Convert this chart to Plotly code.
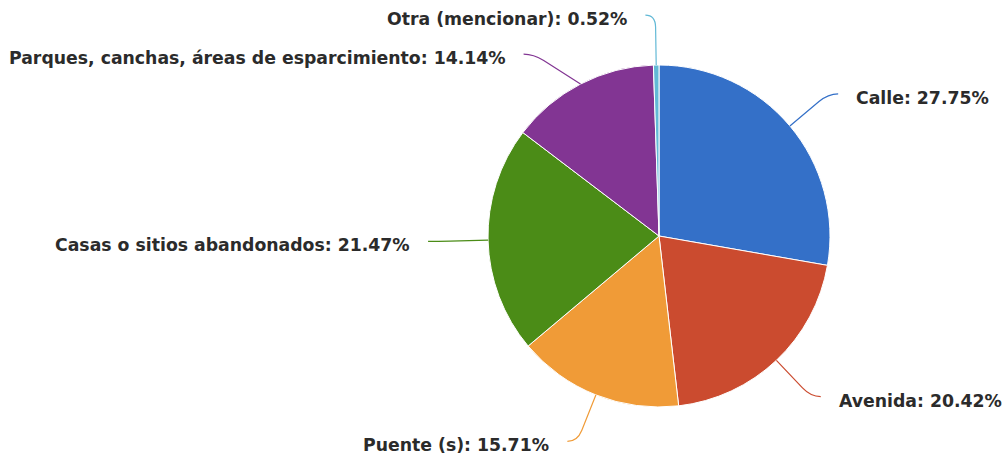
import math
import plotly.graph_objects as go

# ---- data ----
labels = ["Calle", "Avenida", "Puente (s)", "Casas o sitios abandonados",
          "Parques, canchas, áreas de esparcimiento", "Otra (mencionar)"]
values = [27.75, 20.42, 15.71, 21.47, 14.14, 0.52]
colors = ["#3470C8", "#CB4B2F", "#F09B37", "#4B8C17", "#823593", "#62B9D6"]

# ---- layout constants ----
W, H = 1006, 457
CX, CY, R = 659, 236, 171
LABEL_R = 221
ELBOW = 10
GAP = 16
MIN_SPACING = 39
FONT = dict(family="DejaVu Sans", size=17.3, color="#2b2b2b")

total = sum(values)
cum = 0.0
items = []
for lab, v, c in zip(labels, values, colors):
    mid = (cum + v / 2) / total * 2 * math.pi
    cum += v
    s, co = math.sin(mid), math.cos(mid)
    side = 1 if s >= 0 else -1
    items.append(dict(lab=lab, v=v, c=c, s=s, co=co, side=side,
                      y=CY - LABEL_R * co))

# simple collision resolution per side
for side in (1, -1):
    grp = sorted([it for it in items if it["side"] == side], key=lambda d: d["y"])
    for i in range(1, len(grp)):
        grp[i]["y"] = max(grp[i]["y"], grp[i - 1]["y"] + MIN_SPACING)

fig = go.Figure()
fig.add_trace(go.Pie(
    labels=labels, values=values, sort=False, direction="clockwise", rotation=0,
    marker=dict(colors=colors, line=dict(color="white", width=1)),
    textinfo="none", hoverinfo="none", showlegend=False,
    domain=dict(x=[(CX - R) / W, (CX + R) / W],
                y=[(H - CY - R) / H, (H - CY + R) / H]),
))

shapes, annotations = [], []
for it in items:
    y = it["y"]
    dy = y - CY
    kx = CX + it["side"] * math.sqrt(max(LABEL_R ** 2 - dy ** 2, 0))
    ex = kx + it["side"] * ELBOW
    px, py = CX + R * it["s"], CY - R * it["co"]
    dist = math.hypot(px - kx, py - y)
    f = min(1.0, 12 / dist) if dist > 0 else 0
    mx, my = kx + (px - kx) * f, y + (py - y) * f
    path = f"M {px:.2f},{py:.2f} L {mx:.2f},{my:.2f} Q {kx:.2f},{y:.2f} {ex:.2f},{y:.2f}"
    shapes.append(dict(type="path", path=path, xref="x", yref="y",
                       line=dict(color=it["c"], width=1.2)))
    annotations.append(dict(
        x=ex + it["side"] * GAP, y=y + 4, xref="x", yref="y",
        text=f"<b>{it['lab']}: {it['v']:.2f}%</b>", showarrow=False,
        xanchor="left" if it["side"] > 0 else "right", yanchor="middle",
        font=FONT))

fig.update_layout(
    width=W, height=H, margin=dict(l=0, r=0, t=0, b=0),
    paper_bgcolor="white", plot_bgcolor="rgba(0,0,0,0)",
    xaxis=dict(range=[0, W], visible=False, fixedrange=True),
    yaxis=dict(range=[H, 0], visible=False, fixedrange=True),
    shapes=shapes, annotations=annotations, showlegend=False,
)
fig.write_html("out.html", config={"displayModeBar": False},
               post_script="document.body.style.margin='0';document.body.style.overflow='hidden';")
